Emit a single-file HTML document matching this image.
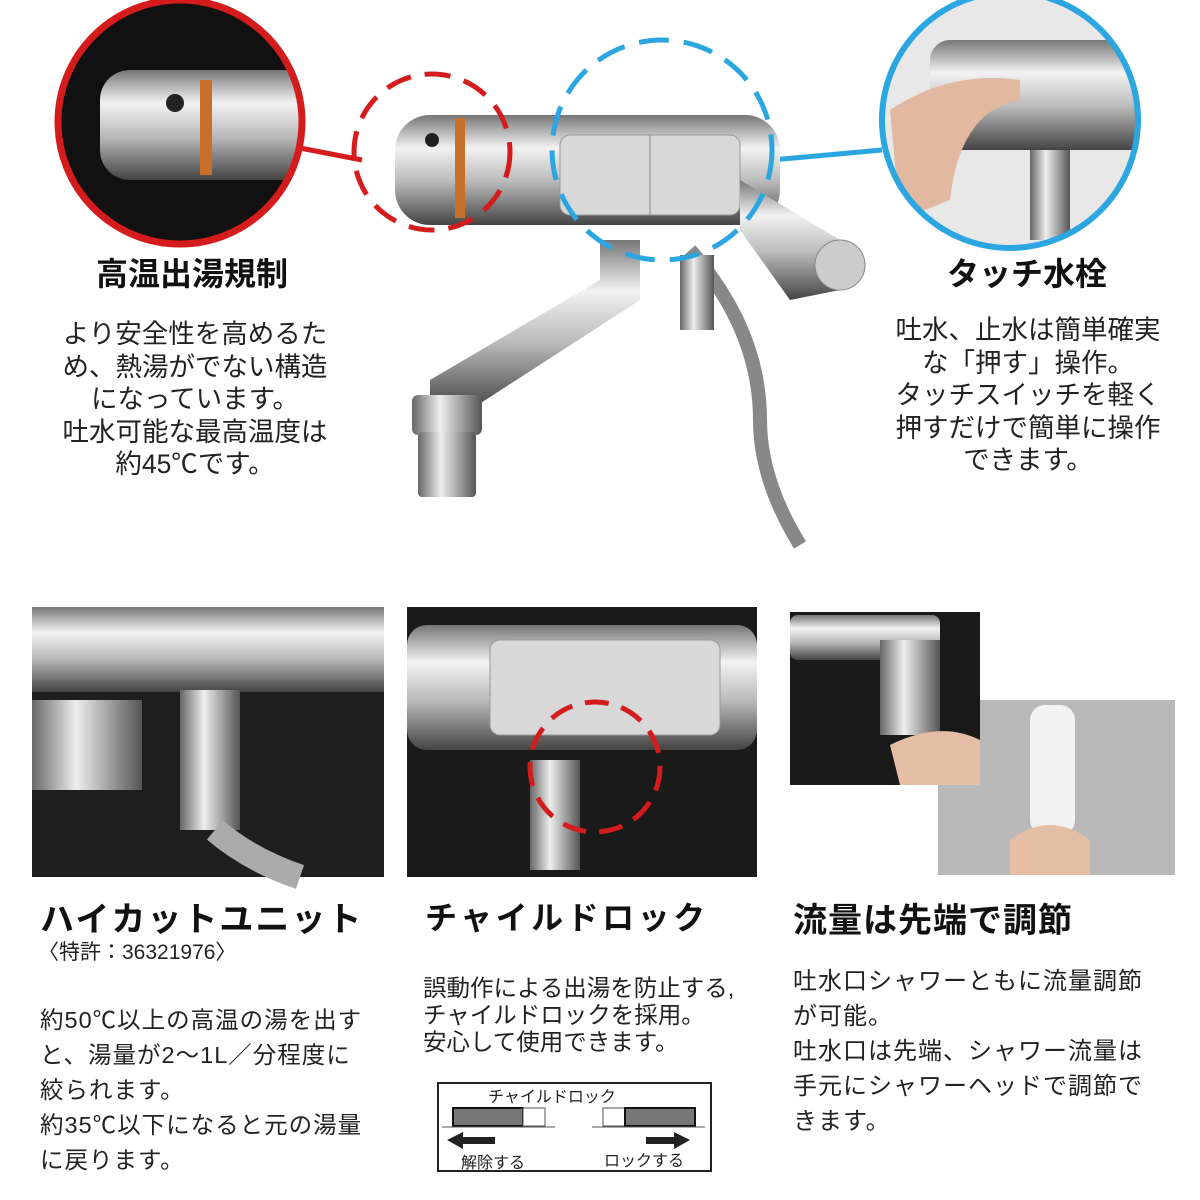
<!DOCTYPE html>
<html><head><meta charset="utf-8"><style>
body{margin:0;width:1200px;height:1200px;background:#fff;position:relative;overflow:hidden;font-family:"Liberation Sans","Noto Sans CJK JP",sans-serif;color:#222}
.a{position:absolute}
.h{font-weight:bold;color:#111}
.p{font-size:26.5px;line-height:32.5px;text-align:center;white-space:nowrap}
.q{font-size:23.5px;line-height:35px;letter-spacing:1px;white-space:nowrap}
</style></head><body>
<svg class="a" style="left:0;top:0" width="1200" height="1200">
<defs>
<linearGradient id="sil" x1="0" y1="0" x2="0" y2="1"><stop offset="0" stop-color="#777"/><stop offset=".3" stop-color="#f2f2f2"/><stop offset=".6" stop-color="#bbb"/><stop offset="1" stop-color="#444"/></linearGradient>
<linearGradient id="sil2" x1="0" y1="0" x2="1" y2="0"><stop offset="0" stop-color="#666"/><stop offset=".4" stop-color="#eee"/><stop offset="1" stop-color="#555"/></linearGradient>
<clipPath id="c1"><circle cx="180" cy="122" r="122"/></clipPath>
<clipPath id="c2"><circle cx="1010" cy="120" r="128"/></clipPath>
</defs>
<g clip-path="url(#c1)"><rect x="0" y="0" width="360" height="260" fill="#111"/><rect x="100" y="70" width="220" height="110" rx="30" fill="url(#sil)"/><rect x="200" y="80" width="12" height="95" fill="#c8702a"/><circle cx="175" cy="103" r="9" fill="#222"/></g>
<circle cx="180" cy="122" r="122" fill="none" stroke="#d41c1c" stroke-width="7"/>
<line x1="300" y1="148" x2="362" y2="160" stroke="#d41c1c" stroke-width="5"/>
<g clip-path="url(#c2)"><rect x="870" y="0" width="280" height="260" fill="#e8e8e8"/><rect x="930" y="40" width="220" height="110" rx="20" fill="url(#sil)"/><path d="M890 110 Q950 70 1020 80 L1020 100 Q960 110 950 200 L900 220 Z" fill="#e2b9a0"/><rect x="1030" y="150" width="40" height="90" fill="url(#sil2)"/></g>
<circle cx="1010" cy="120" r="128" fill="none" stroke="#2ba6e0" stroke-width="6"/>
<line x1="772" y1="160" x2="882" y2="150" stroke="#2ba6e0" stroke-width="5"/>
<path d="M690 250 Q760 330 760 420 Q760 480 800 545" stroke="#888" stroke-width="14" fill="none"/>
<rect x="680" y="255" width="34" height="75" fill="url(#sil2)"/>
<path d="M600 240 L640 240 L640 300 L470 410 L430 400 L430 380 L600 280 Z" fill="url(#sil)"/>
<rect x="412" y="395" width="70" height="40" rx="6" fill="url(#sil2)"/>
<rect x="418" y="432" width="58" height="65" rx="4" fill="url(#sil2)"/>
<rect x="395" y="115" width="385" height="110" rx="35" fill="url(#sil)"/>
<rect x="560" y="135" width="180" height="80" rx="10" fill="#d8d8d8" stroke="#999"/>
<line x1="650" y1="135" x2="650" y2="215" stroke="#888"/>
<rect x="455" y="118" width="10" height="100" fill="#c8702a"/>
<circle cx="432" cy="140" r="7" fill="#222"/>
<path d="M740 180 L840 240 L840 290 L790 300 L740 230 Z" fill="url(#sil)"/>
<circle cx="840" cy="265" r="25" fill="#ccc" stroke="#888"/>
<circle cx="432" cy="152" r="78" fill="none" stroke="#d41c1c" stroke-width="5" stroke-dasharray="26 14"/>
<circle cx="662" cy="150" r="110" fill="none" stroke="#2ba6e0" stroke-width="5" stroke-dasharray="30 15"/>
<rect x="32" y="607" width="352" height="270" fill="#1e1e1e"/>
<rect x="32" y="607" width="352" height="85" fill="url(#sil)"/>
<rect x="32" y="700" width="110" height="90" fill="url(#sil2)"/>
<rect x="180" y="690" width="60" height="140" fill="url(#sil2)"/>
<path d="M215 830 Q250 860 300 877" stroke="#aaa" stroke-width="25" fill="none"/>
<rect x="407" y="607" width="350" height="270" fill="#1a1a1a"/>
<rect x="407" y="625" width="350" height="125" rx="20" fill="url(#sil)"/>
<rect x="490" y="640" width="230" height="95" rx="10" fill="#d8d8d8" stroke="#999"/>
<rect x="530" y="760" width="50" height="110" fill="url(#sil2)"/>
<circle cx="595" cy="767" r="65" fill="none" stroke="#d41c1c" stroke-width="5" stroke-dasharray="24 13"/>
<rect x="938" y="700" width="237" height="175" fill="#b9b9b9"/>
<rect x="1030" y="705" width="45" height="130" rx="15" fill="#f2f2f2"/>
<path d="M1010 840 Q1050 810 1090 840 L1090 875 L1010 875 Z" fill="#e4bfa6"/>
<rect x="790" y="612" width="190" height="173" fill="#1a1a1a"/>
<rect x="790" y="615" width="150" height="45" rx="8" fill="url(#sil)"/>
<rect x="880" y="640" width="60" height="95" fill="url(#sil2)"/>
<path d="M890 745 Q940 720 980 740 L980 785 L900 785 Z" fill="#e4bfa6"/>
<rect x="438" y="1083" width="273" height="88" fill="#fff" stroke="#222" stroke-width="2"/>
<rect x="453" y="1108" width="70" height="18" fill="#777" stroke="#111" stroke-width="2"/>
<rect x="523" y="1108" width="22" height="18" fill="#fff" stroke="#555"/>
<line x1="442" y1="1127" x2="555" y2="1127" stroke="#555"/>
<rect x="603" y="1108" width="22" height="18" fill="#fff" stroke="#555"/>
<rect x="625" y="1108" width="70" height="18" fill="#777" stroke="#111" stroke-width="2"/>
<line x1="592" y1="1127" x2="705" y2="1127" stroke="#555"/>
<path d="M447 1140 L463 1132 L463 1137 L495 1137 L495 1144 L463 1144 L463 1149 Z" fill="#222"/>
<path d="M690 1140 L674 1132 L674 1137 L646 1137 L646 1144 L674 1144 L674 1149 Z" fill="#222"/>
</svg>
<div class="a" style="left:488px;top:1083px;font-size:16px">チャイルドロック</div>
<div class="a" style="left:461px;top:1149px;font-size:16px">解除する</div>
<div class="a" style="left:604px;top:1147px;font-size:16px">ロックする</div>

<div class="a h" style="left:96px;top:249px;font-size:32px">高温出湯規制</div>
<div class="a p" style="left:45px;top:318px;width:300px">より安全性を高めるた<br>め、熱湯がでない構造<br>になっています。<br>吐水可能な最高温度は<br>約45℃です。</div>
<div class="a h" style="left:947px;top:249px;font-size:32px">タッチ水栓</div>
<div class="a p" style="left:878px;top:314px;width:300px">吐水、止水は簡単確実<br>な「押す」操作。<br>タッチスイッチを軽く<br>押すだけで簡単に操作<br>できます。</div>

<div class="a h" style="left:40px;top:892px;font-size:34px;letter-spacing:2px">ハイカットユニット</div>
<div class="a" style="left:38px;top:936px;font-size:21px">〈特許：36321976〉</div>
<div class="a q" style="left:40px;top:1003px">約50℃以上の高温の湯を出す<br>と、湯量が2〜1L／分程度に<br>絞られます。<br>約35℃以下になると元の湯量<br>に戻ります。</div>

<div class="a h" style="left:425px;top:893px;font-size:32px;letter-spacing:3.5px">チャイルドロック</div>
<div class="a" style="left:423px;top:975px;font-size:23.5px;line-height:27px;white-space:nowrap">誤動作による出湯を防止する,<br>チャイルドロックを採用。<br>安心して使用できます。</div>

<div class="a h" style="left:793px;top:893px;font-size:34px;letter-spacing:1px">流量は先端で調節</div>
<div class="a q" style="left:793px;top:964px;font-size:24px">吐水口シャワーともに流量調節<br>が可能。<br>吐水口は先端、シャワー流量は<br>手元にシャワーヘッドで調節で<br>きます。</div>
</body></html>
